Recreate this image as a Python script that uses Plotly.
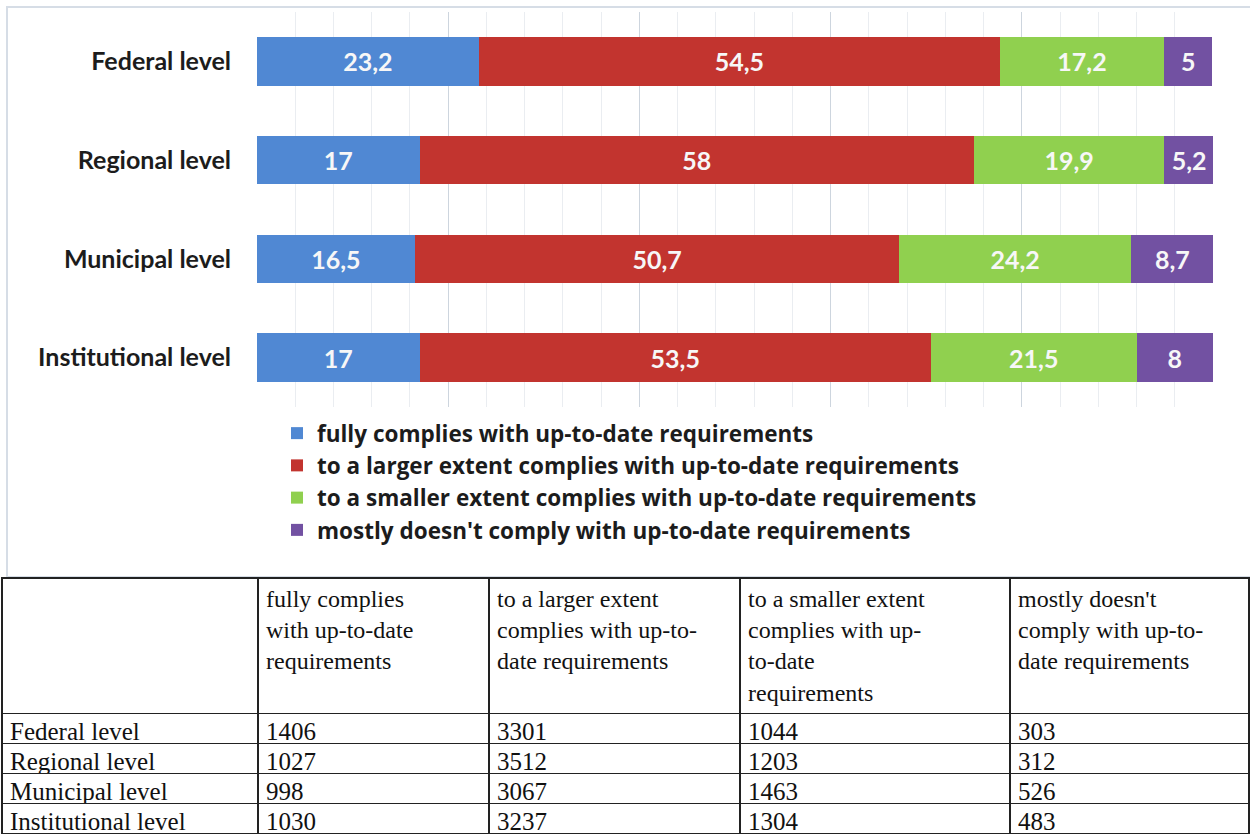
import plotly.graph_objects as go

# ---------------- data ----------------
levels = ["Federal level", "Regional level", "Municipal level", "Institutional level"]
series_names = [
    "fully complies with up-to-date requirements",
    "to a larger extent complies with up-to-date requirements",
    "to a smaller extent complies with up-to-date requirements",
    "mostly doesn't comply with up-to-date requirements",
]
fully_pct = [23.2, 17, 16.5, 17]
larger_pct = [54.5, 58, 50.7, 53.5]
smaller_pct = [17.2, 19.9, 24.2, 21.5]
mostly_not_pct = [5, 5.2, 8.7, 8]

fully_n = [1406, 1027, 998, 1030]
larger_n = [3301, 3512, 3067, 3237]
smaller_n = [1044, 1203, 1463, 1304]
mostly_not_n = [303, 312, 526, 483]

table_headers = [
    "",
    "fully complies<br>with up-to-date<br>requirements",
    "to a larger extent<br>complies with up-to-<br>date requirements",
    "to a smaller extent<br>complies with up-<br>to-date<br>requirements",
    "mostly doesn't<br>comply with up-to-<br>date requirements",
]

# ---------------- style ----------------
W, H = 1250, 839
colors = ["#5088d3", "#c2342f", "#90d04f", "#7251a2"]
label_font = "Lato"

def px_x(p):
    return p / W

def px_y(p):
    return 1 - p / H

def fmt(v):
    return str(v).replace(".", ",")

fig = go.Figure()

pct_series = [fully_pct, larger_pct, smaller_pct, mostly_not_pct]
for name, vals, col in zip(series_names, pct_series, colors):
    fig.add_trace(go.Bar(
        y=levels, x=vals, name=name, orientation="h",
        marker=dict(color=col, line=dict(width=0)),
        text=[fmt(v) for v in vals], textposition="inside",
        insidetextanchor="middle", textangle=0, constraintext="none",
        textfont=dict(family=label_font, size=25, color="#f7f7f7", weight="bold"),
        hoverinfo="skip",
    ))

count_series = [fully_n, larger_n, smaller_n, mostly_not_n]
fig.add_trace(go.Table(
    domain=dict(x=[px_x(2), px_x(1249)], y=[0, px_y(578)]),
    columnwidth=[256, 231, 251, 270, 239],
    header=dict(
        values=table_headers, align="left", height=128,
        fill=dict(color="white"), line=dict(color="#222222", width=1.5),
        font=dict(family="Liberation Serif", size=24, color="#111111"),
    ),
    cells=dict(
        values=[levels] + [[str(v) for v in s] for s in count_series],
        align="left", height=30,
        fill=dict(color="white"), line=dict(color="#222222", width=1.5),
        font=dict(family="Liberation Serif", size=25, color="#111111"),
    ),
))

fig.update_layout(
    width=W, height=H, autosize=False,
    margin=dict(l=0, r=0, t=0, b=0),
    paper_bgcolor="white", plot_bgcolor="white",
    barmode="stack", bargap=0.51,
    xaxis=dict(
        domain=[px_x(257), px_x(1213)], range=[0, 100],
        showticklabels=False, ticks="", dtick=20,
        showgrid=True, gridcolor="#cdd5de", gridwidth=1,
        minor=dict(dtick=4, showgrid=True, gridcolor="#eaedf1", gridwidth=1),
        zeroline=False, showline=False, fixedrange=True,
    ),
    yaxis=dict(
        domain=[px_y(407), px_y(12)],
        categoryorder="array", categoryarray=levels, autorange="reversed",
        ticks="", showgrid=False, zeroline=False, showline=False,
        ticklabelstandoff=25,
        tickfont=dict(family=label_font, size=25, color="#1c1c1c", weight="bold"),
        fixedrange=True,
    ),
    showlegend=True,
    legend=dict(
        orientation="v", x=px_x(277), xanchor="left",
        y=px_y(412), yanchor="top",
        font=dict(family="Open Sans", size=22.5, color="#1c1c1c", weight="bold"),
        bgcolor="rgba(0,0,0,0)", borderwidth=0, traceorder="normal",
        itemclick=False, itemdoubleclick=False,
    ),
    shapes=[dict(
        type="rect", xref="paper", yref="paper",
        x0=px_x(7), x1=px_x(1262), y0=px_y(577), y1=px_y(7),
        line=dict(color="#d6dde6", width=2), fillcolor="rgba(0,0,0,0)",
        layer="below",
    )],
)

fig.write_html(
    "out.html",
    config={"displayModeBar": False, "staticPlot": False},
    post_script="document.body.style.margin='0px';document.body.style.overflow='hidden';",
)
